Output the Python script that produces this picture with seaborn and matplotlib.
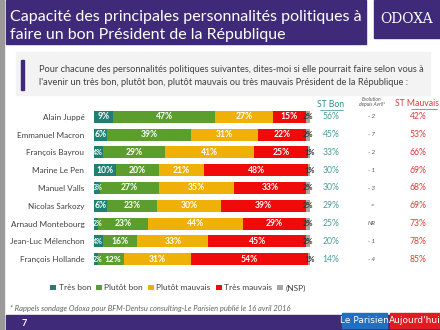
import matplotlib
matplotlib.use("Agg")
import matplotlib.pyplot as plt
import seaborn as sns
import pandas as pd
from matplotlib.patches import Rectangle, Patch
from matplotlib.lines import Line2D

names = ["Alain Juppé", "Emmanuel Macron", "François Bayrou", "Marine Le Pen",
         "Manuel Valls", "Nicolas Sarkozy", "Arnaud Montebourg",
         "Jean-Luc Mélenchon", "François Hollande"]
tres_bon = [9, 6, 4, 10, 3, 6, 2, 4, 2]
plutot_bon = [47, 39, 29, 20, 27, 23, 23, 16, 12]
plutot_mauvais = [27, 31, 41, 21, 35, 30, 44, 33, 31]
tres_mauvais = [15, 22, 25, 48, 33, 39, 29, 45, 54]
nsp = [2, 2, 1, 1, 2, 2, 2, 2, 1]
st_bon = ["56%", "45%", "33%", "30%", "30%", "29%", "25%", "20%", "14%"]
evolution = ["- 2", "- 7", "- 2", "- 1", "- 3", "=", "NR", "- 1", "- 4"]
st_mauvais = ["42%", "53%", "66%", "69%", "68%", "69%", "73%", "78%", "85%"]
series_names = ["Très bon", "Plutôt bon", "Plutôt mauvais", "Très mauvais", "(NSP)"]

colors = ["#1e7f72", "#5c9e2e", "#efb108", "#f00a0a", "#a6a6a6"]
purple = "#3e2a78"

sns.set_theme(style="white")
plt.rcParams["font.family"] = ["Lato", "DejaVu Sans"]

W, H = 440, 330
fig = plt.figure(figsize=(4.4, 3.3), dpi=100)
fig.patch.set_facecolor("white")

def fx(px):
    return px / W

def fy(py):
    return 1 - py / H

# Title band
fig.add_artist(Rectangle((fx(6), fy(44)), fx(366) - fx(6), fy(0) - fy(44),
                         transform=fig.transFigure, color=purple, zorder=0))
fig.add_artist(Rectangle((fx(374), fy(38)), fx(440) - fx(374), fy(0) - fy(38),
                         transform=fig.transFigure, color=purple, zorder=0))
fig.add_artist(Rectangle((0, 0), fx(4), 1, transform=fig.transFigure,
                         color="#9a9a9a", zorder=0))
fig.text(fx(10), fy(17), "Capacité des principales personnalités politiques à",
         color="white", fontsize=11.5, va="center", ha="left")
fig.text(fx(10), fy(35), "faire un bon Président de la République",
         color="white", fontsize=11.5, va="center", ha="left")
fig.text(fx(407), fy(19), "ODOXA", color="white", fontsize=10, va="center",
         ha="center", family=["DejaVu Serif"])

# Question box
fig.add_artist(Rectangle((fx(16), fy(95)), fx(430) - fx(16), fy(52) - fy(95),
                         transform=fig.transFigure, color="#f3f3f3", zorder=0))
fig.add_artist(Rectangle((fx(21), fy(90)), fx(3), fy(60) - fy(90),
                         transform=fig.transFigure, color=purple, zorder=1))
fig.text(fx(39), fy(70), "Pour chacune des personnalités politiques suivantes, dites-moi si elle pourrait faire selon vous à",
         fontsize=6.7, color="#404040", va="center", ha="left")
fig.text(fx(39), fy(82), "l'avenir un très bon, plutôt bon, plutôt mauvais ou très mauvais Président de la République :",
         fontsize=6.7, color="#404040", va="center", ha="left")

# Main axes
ax = fig.add_axes([fx(94), fy(268), fx(310) - fx(94), fy(108) - fy(268)])
df = pd.DataFrame({"name": names, "tb": tres_bon, "pb": plutot_bon,
                   "pm": plutot_mauvais, "tm": tres_mauvais, "nsp": nsp})
cols = ["tb", "pb", "pm", "tm", "nsp"]
cum = df[cols].cumsum(axis=1)
for i in range(len(cols) - 1, -1, -1):
    sns.barplot(x=cum[cols[i]], y=df["name"], color=colors[i], orient="h",
                width=0.68, ax=ax, saturation=1, linewidth=0)
ax.set_xlim(0, 100)
ax.set_ylim(8.5, -0.5)
ax.set_xlabel("")
ax.set_ylabel("")
ax.set_xticks([])
ax.tick_params(axis="y", length=0, labelsize=5.9, labelcolor="#404040", pad=7)
for s in ax.spines.values():
    s.set_visible(False)
ax.set_facecolor("none")

for r in range(len(names)):
    start = 0
    for i, c in enumerate(cols):
        v = df[c].iloc[r]
        mid = start + v / 2
        if i == 4:
            ax.text(mid + 0.3, r, f"{v}%", color="#333333", fontsize=5.4,
                    fontweight="bold", ha="center", va="center", clip_on=False)
        elif i == 0 and v < 6:
            ax.text(-0.6, r, f"{v}%", color="white", fontsize=5.0,
                    fontweight="bold", ha="left", va="center", clip_on=False)
        elif i == 1 and v < 14:
            ax.text(mid + 0.8, r, f"{v}%", color="white", fontsize=6.0,
                    fontweight="bold", ha="center", va="center")
        else:
            ax.text(mid, r, f"{v}%", color="white", fontsize=6.2,
                    fontweight="bold", ha="center", va="center")
        start += v
    ax.text(109.7, r, st_bon[r], color="#4b9c9c", fontsize=6.2,
            ha="center", va="center", clip_on=False)
    ax.text(128.7, r, evolution[r], color="#555555", fontsize=4.4, style="italic",
            ha="center", va="center", clip_on=False)
    ax.text(150.0, r, st_mauvais[r], color="#e03a3a", fontsize=6.2,
            ha="center", va="center", clip_on=False)

# Column headers
fig.text(fx(331), fy(105), "ST Bon", color="#2f8f8f", fontsize=6.2,
         ha="center", va="center")
fig.add_artist(Line2D([fx(320), fx(343)], [fy(110), fy(110)],
                      transform=fig.transFigure, color="#2f8f8f", lw=0.5))
fig.text(fx(372), fy(102), "Evolution\ndepuis Avril*", color="#555555",
         fontsize=3.6, style="italic", ha="center", va="center", linespacing=1.2)
fig.text(fx(417), fy(104), "ST Mauvais", color="#e03a3a", fontsize=6.2,
         ha="center", va="center")
fig.add_artist(Line2D([fx(411), fx(437)], [fy(109), fy(109)],
                      transform=fig.transFigure, color="#e03a3a", lw=0.5))

# Legend
handles = [Patch(facecolor=c, edgecolor="none") for c in colors]
fig.legend(handles, series_names, loc="center", bbox_to_anchor=(fx(178), fy(288)),
           ncol=5, frameon=False, fontsize=6.0, handlelength=0.7, handleheight=0.7,
           handletextpad=0.3, columnspacing=0.6, labelcolor="#404040")

# Footnote and footer
fig.text(fx(10), fy(309), "* Rappels sondage Odoxa pour BFM-Dentsu consulting-Le Parisien publié le 16 avril 2016",
         fontsize=5.4, style="italic", color="#606060", ha="left", va="center")
fig.add_artist(Rectangle((fx(6), fy(330)), fx(440) - fx(6), fy(315) - fy(330),
                         transform=fig.transFigure, color=purple, zorder=0))
fig.text(fx(24), fy(323), "7", color="white", fontsize=6.5, fontweight="bold",
         ha="center", va="center")
fig.add_artist(Rectangle((fx(342), fy(328)), fx(45), fy(313) - fy(328),
                         transform=fig.transFigure, color="#1f6fc2", zorder=1))
fig.text(fx(364.5), fy(320.5), "Le Parisien", color="white", fontsize=6.5,
         ha="center", va="center", family=["Liberation Sans Narrow", "DejaVu Sans"])
fig.add_artist(Rectangle((fx(390), fy(328)), fx(50), fy(313) - fy(328),
                         transform=fig.transFigure, color="#e11b22", zorder=1))
fig.text(fx(415), fy(320.5), "Aujourd'hui", color="white", fontsize=6.5,
         ha="center", va="center", family=["Liberation Sans Narrow", "DejaVu Sans"])

fig.savefig("out.png", dpi=100)
